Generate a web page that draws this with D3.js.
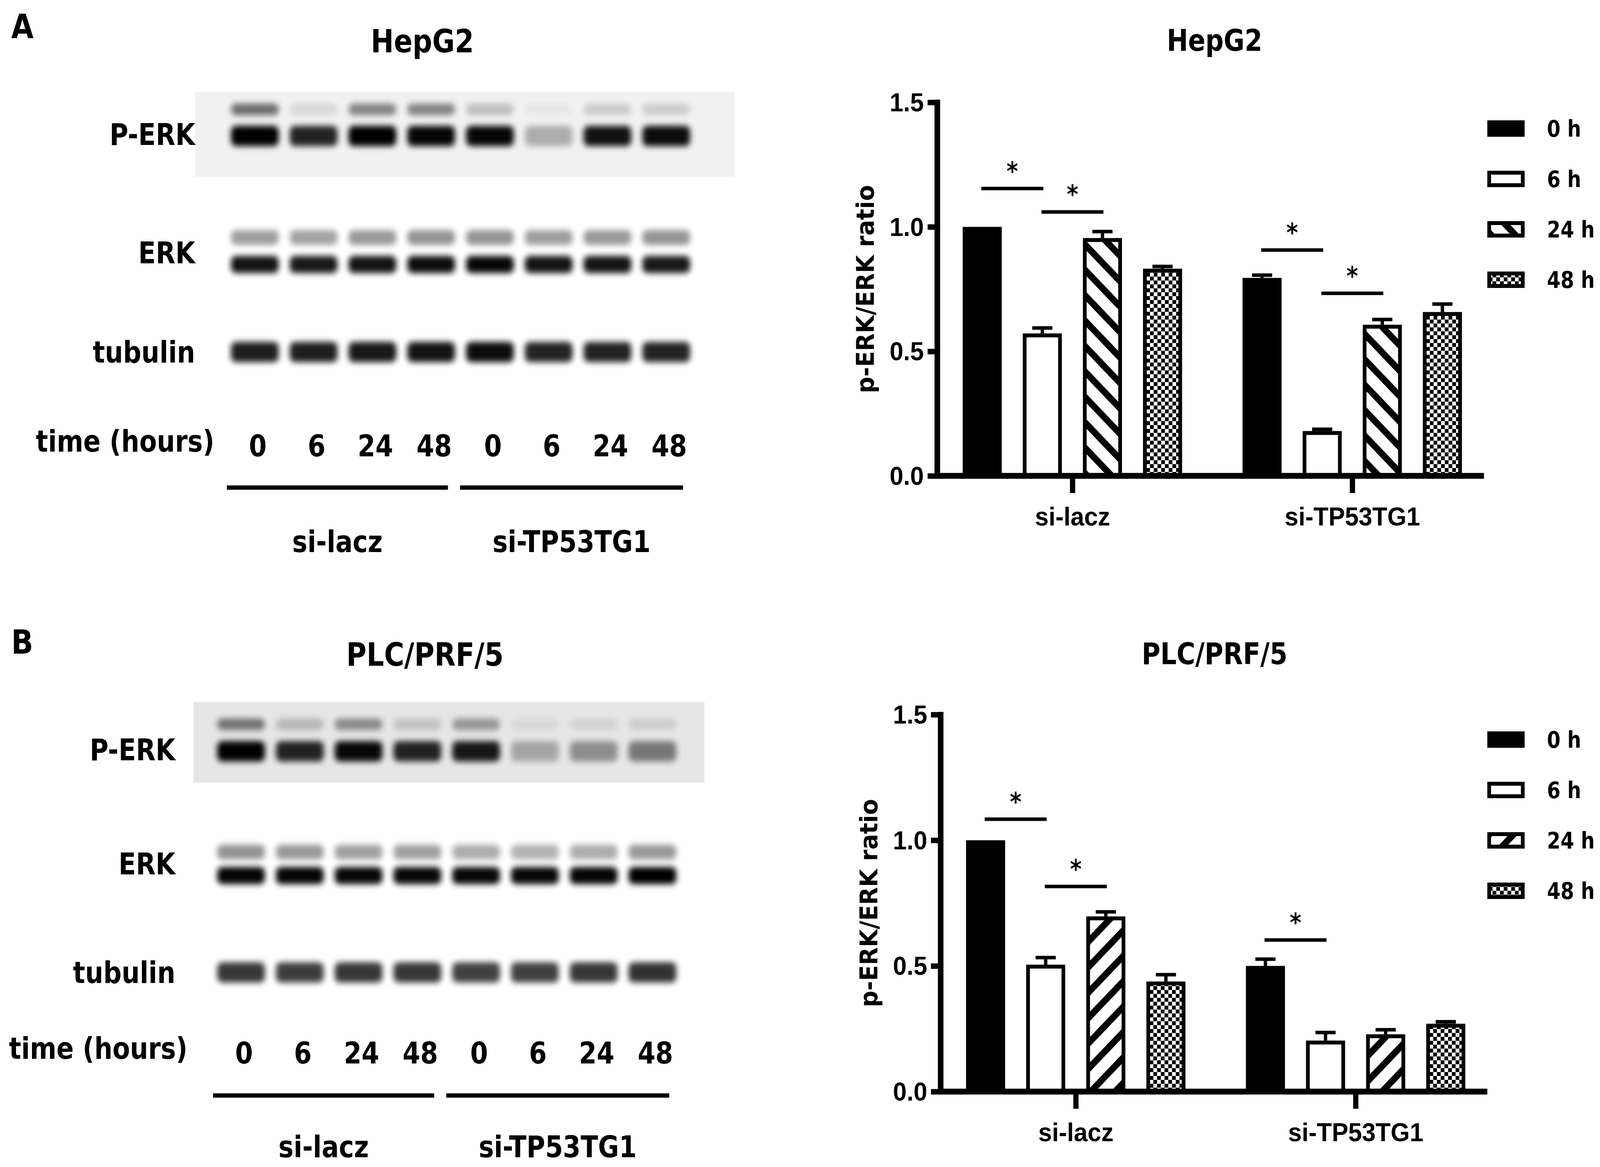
<!DOCTYPE html>
<html>
<head>
<meta charset="utf-8">
<script src="https://d3js.org/d3.v7.min.js"></script>
<style>
  html, body { margin: 0; padding: 0; background: #fff; overflow: hidden; }
  svg { display: block; width: 100vw; height: 100vh; font-family: "Liberation Sans Narrow", "DejaVu Sans Condensed", "Liberation Sans", sans-serif; font-weight: bold; }
</style>
</head>
<body>
<svg id="fig" viewBox="0 0 4288 2987" preserveAspectRatio="none"></svg>
<script>
// ---- data ----
const groups = ["si-lacz", "si-TP53TG1"];
const times = ["0 h", "6 h", "24 h", "48 h"];
const laneLabels = ["0", "6", "24", "48", "0", "6", "24", "48"];

const hepMean = [[1.0, 0.572, 0.955, 0.832], [0.795, 0.18, 0.607, 0.658]];
const hepErr  = [[0, 0.022, 0.026, 0.009], [0.011, 0.007, 0.021, 0.032]];
const plcMean = [[1.0, 0.505, 0.697, 0.438], [0.50, 0.203, 0.228, 0.27]];
const plcErr  = [[0, 0.028, 0.018, 0.027], [0.027, 0.032, 0.018, 0.008]];

// significance: [group, fromTime, toTime, level]
const hepSig = [[0, 0, 1, 1.154], [0, 1, 2, 1.06], [1, 0, 1, 0.907], [1, 1, 2, 0.733]];
const plcSig = [[0, 0, 1, 1.084], [0, 1, 2, 0.816], [1, 0, 1, 0.603]];

// blot band intensities per lane
const hepBands = {
  perkUp:  [0.55, 0.1, 0.45, 0.45, 0.2, 0.04, 0.15, 0.15],
  perk:    [1.0, 0.85, 1.0, 0.97, 0.97, 0.28, 0.92, 0.95],
  erkUp:   [0.38, 0.36, 0.4, 0.42, 0.42, 0.38, 0.4, 0.42],
  erk:     [0.92, 0.9, 0.92, 0.95, 0.97, 0.92, 0.92, 0.9],
  tub:     [0.88, 0.88, 0.9, 0.92, 0.95, 0.86, 0.86, 0.86]
};
const plcBands = {
  perkUp:  [0.5, 0.2, 0.4, 0.15, 0.35, 0.06, 0.08, 0.1],
  perk:    [1.0, 0.85, 0.97, 0.85, 0.9, 0.28, 0.38, 0.48],
  erkUp:   [0.42, 0.4, 0.37, 0.37, 0.32, 0.3, 0.32, 0.4],
  erk:     [0.98, 0.98, 0.97, 0.97, 0.97, 0.97, 0.98, 1.0],
  tub:     [0.78, 0.76, 0.78, 0.78, 0.74, 0.74, 0.78, 0.8]
};

const svg = d3.select("#fig");
const defs = svg.append("defs");

defs.append("filter").attr("id", "blur").attr("x", "-30%").attr("y", "-80%").attr("width", "160%").attr("height", "260%")
  .append("feGaussianBlur").attr("stdDeviation", 8);

function stripes(id, angle) {
  const p = defs.append("pattern").attr("id", id).attr("patternUnits", "userSpaceOnUse")
    .attr("width", 46).attr("height", 46).attr("patternTransform", `rotate(${angle})`);
  p.append("rect").attr("width", 46).attr("height", 46).attr("fill", "#fff");
  p.append("rect").attr("width", 17).attr("height", 46).attr("fill", "#000");
}
stripes("strBack", -45);
stripes("strFwd", 45);
const chk = defs.append("pattern").attr("id", "checker").attr("patternUnits", "userSpaceOnUse")
  .attr("width", 20).attr("height", 20);
chk.append("rect").attr("width", 20).attr("height", 20).attr("fill", "#fff");
chk.append("rect").attr("width", 10).attr("height", 10).attr("fill", "#000");
chk.append("rect").attr("x", 10).attr("y", 10).attr("width", 10).attr("height", 10).attr("fill", "#000");

function fills(stripeId) { return ["#000", "#fff", `url(#${stripeId})`, "url(#checker)"]; }

// ---- bar chart ----
function barChart(o) {
  const g = svg.append("g").attr("transform", `translate(${o.x0},${o.y0})`);
  const y = d3.scaleLinear().domain([0, 1.5]).range([0, -o.h]);
  const xg = d3.scalePoint().domain(groups).range([362, 1112]);
  const xt = d3.scaleBand().domain(times).range([-294, 294]).paddingInner(0.35);
  const fill = fills(o.stripe);

  groups.forEach((grp, gi) => {
    times.forEach((t, ti) => {
      const v = o.mean[gi][ti], e = o.err[gi][ti];
      const bx = xg(grp) + xt(t);
      const cx = bx + xt.bandwidth() / 2;
      if (e > 0) {
        g.append("line").attr("x1", cx).attr("x2", cx).attr("y1", y(v)).attr("y2", y(v + e))
          .attr("stroke", "#000").attr("stroke-width", 9);
        g.append("line").attr("x1", cx - 27).attr("x2", cx + 27).attr("y1", y(v + e)).attr("y2", y(v + e))
          .attr("stroke", "#000").attr("stroke-width", 9);
      }
      g.append("rect").attr("x", bx + 5).attr("y", y(v) + 5)
        .attr("width", xt.bandwidth() - 10).attr("height", Math.max(0, -y(v) - 5))
        .attr("fill", fill[ti]).attr("stroke", "#000").attr("stroke-width", 10);
    });
  });

  const ya = g.append("g").call(d3.axisLeft(y).tickValues([0, 0.5, 1.0, 1.5]).tickFormat(d3.format(".1f")).tickSize(26).tickPadding(10));
  ya.select(".domain").remove();
  ya.selectAll("line").attr("stroke-width", 14);
  ya.selectAll("text").attr("font-size", 66).attr("dy", "0.34em");
  g.append("line").attr("x1", 0).attr("x2", 0).attr("y1", 7).attr("y2", -o.h - 7).attr("stroke", "#000").attr("stroke-width", 15);

  const xa = g.append("g").call(d3.axisBottom(xg).tickSize(44).tickPadding(36));
  xa.select(".domain").remove();
  xa.selectAll("line").attr("stroke-width", 14);
  xa.selectAll("text").attr("font-size", 66);
  g.append("line").attr("x1", -7).attr("x2", 1465).attr("y1", 0).attr("y2", 0).attr("stroke", "#000").attr("stroke-width", 15);

  g.append("text").attr("transform", `translate(-170,${-o.h / 2}) rotate(-90)`).attr("text-anchor", "middle")
    .attr("font-size", 66).text("p-ERK/ERK ratio");

  o.sig.forEach(([gi, a, b, lv]) => {
    const x1 = xg(groups[gi]) + xt(times[a]) + 50, x2 = xg(groups[gi]) + xt(times[b]) + 55;
    g.append("line").attr("x1", x1).attr("x2", x2).attr("y1", y(lv)).attr("y2", y(lv))
      .attr("stroke", "#000").attr("stroke-width", 9);
    g.append("text").attr("x", (x1 + x2) / 2).attr("y", y(lv) - 22).attr("text-anchor", "middle")
      .attr("font-size", 66).text("*");
  });

  times.forEach((t, i) => {
    const ly = o.legY + i * 129;
    svg.append("rect").attr("x", 3991).attr("y", ly - 16).attr("width", 90).attr("height", 32)
      .attr("fill", fill[i]).attr("stroke", "#000").attr("stroke-width", 10);
    svg.append("text").attr("x", 4146).attr("y", ly).attr("dy", "0.36em").attr("font-size", 58).text(t);
  });

  svg.append("text").attr("x", 3255).attr("y", o.titleY).attr("text-anchor", "middle").attr("font-size", 76).text(o.title);
}

// ---- western blot ----
function blot(o) {
  const g = svg.append("g");
  const lane = d3.scaleLinear().domain([0, 7]).range([o.lane0, o.lane0 + 7 * 157.5]);
  g.append("rect").attr("x", o.bg[0]).attr("y", o.bg[1]).attr("width", o.bg[2]).attr("height", o.bg[3]).attr("fill", o.bgColor);
  const rows = [["perkUp", o.yPerkUp, 30], ["perk", o.yPerk, 52], ["erkUp", o.yErkUp, 38], ["erk", o.yErk, 44], ["tub", o.yTub, 52]];
  rows.forEach(([k, yy, hh]) => {
    g.selectAll(null).data(o.bands[k]).join("rect")
      .attr("x", (d, i) => lane(i) - 64).attr("y", yy - hh / 2)
      .attr("width", 128).attr("height", hh).attr("rx", 14)
      .attr("fill", "#000").attr("opacity", d => d)
      .attr("filter", "url(#blur)");
  });
  const lbl = [["P-ERK", o.yPerk - 4], ["ERK", o.yErk - 30], ["tubulin", o.yTub]];
  lbl.forEach(([t, yy]) => g.append("text").attr("x", o.labelX).attr("y", yy).attr("dy", "0.36em")
    .attr("text-anchor", "end").attr("font-size", 76).text(t));
  g.append("text").attr("x", o.timeX).attr("y", o.timeY).attr("dy", "0.36em").attr("font-size", 76).text("time (hours)");
  g.selectAll(null).data(laneLabels).join("text")
    .attr("x", (d, i) => lane(i) + 8).attr("y", o.timeY + 12).attr("dy", "0.36em")
    .attr("text-anchor", "middle").attr("font-size", 76).text(d => d);
  [[lane(0) - 75, lane(3) + 45], [lane(4) - 80, lane(7) + 45]].forEach(([a, b], i) => {
    g.append("line").attr("x1", a).attr("x2", b).attr("y1", o.lineY).attr("y2", o.lineY)
      .attr("stroke", "#000").attr("stroke-width", 11);
    g.append("text").attr("x", (a + b) / 2).attr("y", o.groupY).attr("dy", "0.36em")
      .attr("text-anchor", "middle").attr("font-size", 76).text(groups[i]);
  });
  g.append("text").attr("x", o.titleX).attr("y", o.titleY).attr("dy", "0.36em").attr("text-anchor", "middle")
    .attr("font-size", 82).text(o.title);
  g.append("text").attr("x", 30).attr("y", o.letterY).attr("dy", "0.36em").attr("font-size", 86).text(o.letter);
}

blot({ letter: "A", letterY: 66, title: "HepG2", titleX: 1132, titleY: 104,
  bg: [523, 236, 1445, 216], bgColor: "#f1f1f1", lane0: 683,
  yPerkUp: 280, yPerk: 348, yErkUp: 608, yErk: 677, yTub: 901,
  labelX: 523, timeX: 96, timeY: 1129, lineY: 1248, groupY: 1386, bands: hepBands });
blot({ letter: "B", letterY: 1642, title: "PLC/PRF/5", titleX: 1139, titleY: 1674,
  bg: [518, 1797, 1370, 206], bgColor: "#e6e6e6", lane0: 646,
  yPerkUp: 1854, yPerk: 1923, yErkUp: 2181, yErk: 2241, yTub: 2489,
  labelX: 470, timeX: 24, timeY: 2683, lineY: 2804, groupY: 2935, bands: plcBands });

barChart({ x0: 2512, y0: 1218, h: 956, mean: hepMean, err: hepErr, sig: hepSig, stripe: "strBack",
  legY: 329, title: "HepG2", titleY: 130 });
barChart({ x0: 2521, y0: 2794, h: 965, mean: plcMean, err: plcErr, sig: plcSig, stripe: "strFwd",
  legY: 1893, title: "PLC/PRF/5", titleY: 1700 });
</script>
</body>
</html>
